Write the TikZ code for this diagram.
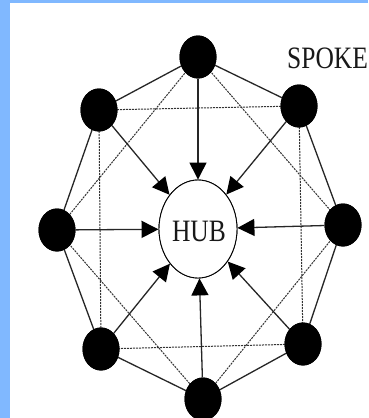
\documentclass[tikz,border=0pt]{standalone}
\usepackage{fontspec}
\setmainfont{Liberation Serif}
\usetikzlibrary{arrows.meta,shapes.geometric}
\definecolor{framebg}{RGB}{128,184,255}
\tikzset{
  spoke/.style={ellipse, fill=black, minimum width=37pt, minimum height=43pt, inner sep=0pt},
  hubnode/.style={ellipse, draw=black, line width=0.9pt, fill=white, minimum width=78pt, minimum height=98pt, inner sep=0pt},
  rim/.style={draw=black!85, line width=1.3pt},
  chord/.style={draw=black!80, line width=1pt, dash pattern=on 2pt off 1pt},
  feed/.style={draw=black!85, line width=1.3pt, -{Triangle[length=17pt,width=17pt,fill=black,color=black]}},
  label/.style={font=\fontsize{25.5}{25.5}\selectfont, text=black!90, inner sep=0pt, yscale=1.22, transform shape}
}
\begin{document}
\begin{tikzpicture}[x=1pt, y=-1pt]
  % background and frame
  \fill[framebg] (0,0) rectangle (368,418);
  \fill[white] (10,3) rectangle (368,418);
  \useasboundingbox (0,0) rectangle (368,418);
  \begin{scope}
  \clip (10,3) rectangle (368,418);

  % outer stations
  \node[spoke] (t)  at (198,57)  {};
  \node[spoke] (ur) at (299,106) {};
  \node[spoke] (r)  at (343,225) {};
  \node[spoke] (lr) at (303,344) {};
  \node[spoke] (b)  at (203,399) {};
  \node[spoke] (ll) at (101,349) {};
  \node[spoke] (l)  at (57,230)  {};
  \node[spoke] (ul) at (99,110)  {};

  % central hub
  \node[hubnode] (hub) at (198,229) {};

  % dashed chords between every second station
  \draw[chord] (t.center) -- (l.center);
  \draw[chord] (t.center) -- (r.center);
  \draw[chord] (l.center) -- (b.center);
  \draw[chord] (r.center) -- (b.center);
  \draw[chord] (ul.center) -- (ur.center);
  \draw[chord] (ur.center) -- (lr.center);
  \draw[chord] (lr.center) -- (ll.center);
  \draw[chord] (ll.center) -- (ul.center);

  % solid rim
  \draw[rim] (t.center) -- (ur.center) -- (r.center) -- (lr.center) -- (b.center)
             -- (ll.center) -- (l.center) -- (ul.center) -- (t.center);

  % redraw stations and hub on top of the lines
  \foreach \n in {t,ur,r,lr,b,ll,l,ul} {
    \fill[black] (\n.center) ellipse (18.5pt and 21.5pt);
  }
  \fill[white] (hub.center) ellipse (39pt and 49pt);
  \draw[black, line width=0.9pt] (hub.center) ellipse (39pt and 49pt);

  % spokes into the hub
  \foreach \n in {t,ur,r,lr,b,ll,l,ul} {
    \draw[feed] (\n) -- (hub);
  }

  % labels
  \node[label] (hubtext) at (199,231) {HUB};
  \node[label, anchor=west] (spoketext) at (287,58) {SPOKE};
  \end{scope}
\end{tikzpicture}
\end{document}
